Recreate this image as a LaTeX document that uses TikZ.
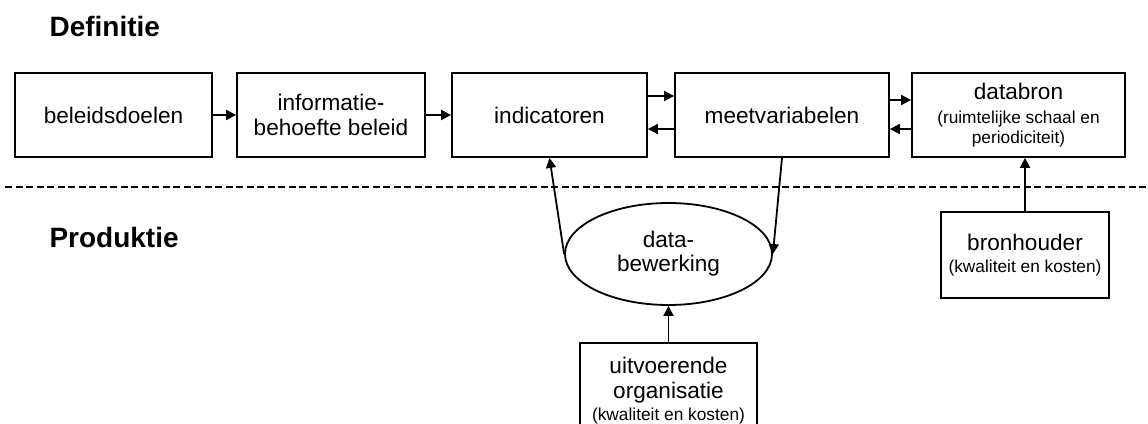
\documentclass[tikz,border=0pt]{standalone}
\usepackage{fontspec}
\setmainfont{Liberation Sans}
\usetikzlibrary{arrows.meta,shapes.geometric}

\newcommand\groot{\fontsize{22.6}{25}\selectfont}
\newcommand\klein{\fontsize{17.3}{20}\selectfont}

\tikzset{
	blok/.style={draw, line width=1.8pt, rectangle, align=center, minimum height=84pt, inner sep=0pt, font=\groot},
	pijl/.style={line width=1.8pt, -{Triangle[length=10pt,width=10pt]}},
	kop/.style={anchor=base west, font=\fontsize{28}{32}\selectfont\bfseries}
}

\begin{document}
\begin{tikzpicture}[x=1pt,y=-1pt]
	\useasboundingbox (0,0) rectangle (1148,423);
	
	% Headings
	\node[kop] (def) at (46,36) {Definitie};
	\node[kop] (prod) at (46,247) {Produktie};
	
	% Dashed separator
	\draw[line width=2pt, dash pattern=on 7pt off 3.5pt] (5,187) -- (1148,187);
	
	% Top row
	\node[blok, minimum width=197pt] (doel) at (113.5,115) {beleidsdoelen};
	\node[blok, minimum width=188pt] (info) at (331,115) {informatie-\\behoefte beleid};
	\node[blok, minimum width=195pt] (ind) at (549.5,115) {indicatoren};
	\node[blok, minimum width=214pt] (meet) at (782,115) {meetvariabelen};
	\node[blok, minimum width=213pt] (bron) at (1018.5,115) {databron\\[-1pt]{\klein (ruimtelijke schaal en}\\[-5pt]{\klein periodiciteit)}};
	
	% Production part
	\node[draw, ellipse, line width=1.8pt, minimum width=207pt, minimum height=102pt, inner sep=0pt, align=center, font=\groot] (bew) at (668.5,254) {data-\\[-1pt]bewerking};
	\node[blok, minimum width=177pt, minimum height=95pt, anchor=north] (uitv) at (668.5,342) {uitvoerende\\organisatie\\[-3pt]{\klein (kwaliteit en kosten)}};
	\node[blok, minimum width=168pt, minimum height=86pt] (houder) at (1025,255) {bronhouder\\[-3pt]{\klein (kwaliteit en kosten)}};
	
	% Arrows
	\draw[pijl] (doel) -- (info);
	\draw[pijl] (info) -- (ind);
	\draw[pijl] ([yshift=19pt]ind.east) -- ([yshift=19pt]meet.west);
	\draw[pijl] ([yshift=-14pt]meet.west) -- ([yshift=-14pt]ind.east);
	\draw[pijl] ([yshift=15pt]meet.east) -- ([yshift=15pt]bron.west);
	\draw[pijl] ([yshift=-14pt]bron.west) -- ([yshift=-14pt]meet.east);
	\draw[pijl] (bew.west) -- (ind.south);
	\draw[pijl] (meet.south) -- (bew.east);
	\draw[pijl] (uitv.north) -- (bew.south);
	\draw[pijl] (houder.north) -- (houder.north |- bron.south);
	
\end{tikzpicture}
\end{document}
